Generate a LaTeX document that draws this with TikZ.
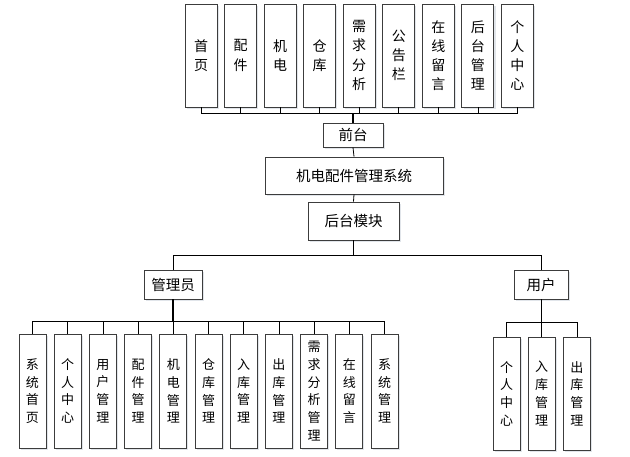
\documentclass[tikz,border=0pt]{standalone}
\usepackage{fontspec}
\newfontfamily\cjk{Noto Sans CJK SC}
\usepackage{tikz}
\usetikzlibrary{shadows}
\definecolor{boxgray}{RGB}{60,60,60}
\definecolor{shadegray}{RGB}{170,180,195}

\begin{document}
\begin{tikzpicture}[x=1pt,y=-1pt,
    box/.style={draw=boxgray,fill=white,line width=0.9pt,inner sep=0pt,align=center,
      drop shadow={shadow xshift=1.6pt,shadow yshift=-1.6pt,fill=shadegray,opacity=0.35}},
    hbox/.style={box,font=\cjk\fontsize{14.5}{18}\selectfont},
    vbox/.style={box,minimum width=32pt,minimum height=103pt,font=\cjk\fontsize{14}{19.2}\selectfont},
    sbox/.style={box,minimum width=27pt,minimum height=114pt,font=\cjk\fontsize{13}{17.7}\selectfont},
    link/.style={draw=black,line width=0.8pt},
    trunk/.style={link,line width=1.3pt}]
  \useasboundingbox (0,0) rectangle (630,456);

  \node[hbox,minimum width=60pt,minimum height=24pt] (qt) at (353,135) {前台};
  \node[hbox,minimum width=178pt,minimum height=37pt] (sys) at (354,175.5) {机电配件管理系统};
  \node[hbox,minimum width=91pt,minimum height=38pt] (ht) at (353.5,221) {后台模块};
  \node[hbox,minimum width=58pt,minimum height=29pt] (gly) at (173,284.5) {管理员};
  \node[hbox,minimum width=54pt,minimum height=29pt] (yh) at (541,284.5) {用户};

  \draw[trunk] (qt.north) -- ++(0,-9) coordinate (qbus);
  \foreach \t [count=\i] in {{首\\页},{配\\件},{机\\电},{仓\\库},{需\\求\\分\\析},
      {公\\告\\栏},{在\\线\\留\\言},{后\\台\\管\\理},{个\\人\\中\\心}} {
    \node[vbox] (qt\i) at ({201+39.56*(\i-1)},55.5) {\t};
    \draw[link] (qt\i.south) |- (qbus);
  }

  \draw[link] (sys.north) -- (qt.south);
  \draw[link] (sys.south) -- (ht.north);
  \draw[link] (ht.south) -- ++(0,15) -| (gly.north);
  \draw[link] (ht.south) -- ++(0,15) -| (yh.north);

  \draw[trunk] (gly.south) -- ++(0,22) coordinate (gbus);
  \foreach \t [count=\i] in {{系\\统\\首\\页},{个\\人\\中\\心},{用\\户\\管\\理},{配\\件\\管\\理},
      {机\\电\\管\\理},{仓\\库\\管\\理},{入\\库\\管\\理},{出\\库\\管\\理},
      {需\\求\\分\\析\\管\\理},{在\\线\\留\\言},{系\\统\\管\\理}} {
    \node[sbox] (gl\i) at ({32.5+35.2*(\i-1)},391) {\t};
    \draw[link] (gl\i.north) |- (gbus);
  }

  \draw[link] (yh.south) -- ++(0,23) coordinate (ubus);
  \foreach \t [count=\i] in {{个\\人\\中\\心},{入\\库\\管\\理},{出\\库\\管\\理}} {
    \node[sbox,minimum height=113pt] (yh\i) at ({506.5+35.2*(\i-1)},393.5) {\t};
    \draw[link] (yh\i.north) |- (ubus);
  }
\end{tikzpicture}
\end{document}
